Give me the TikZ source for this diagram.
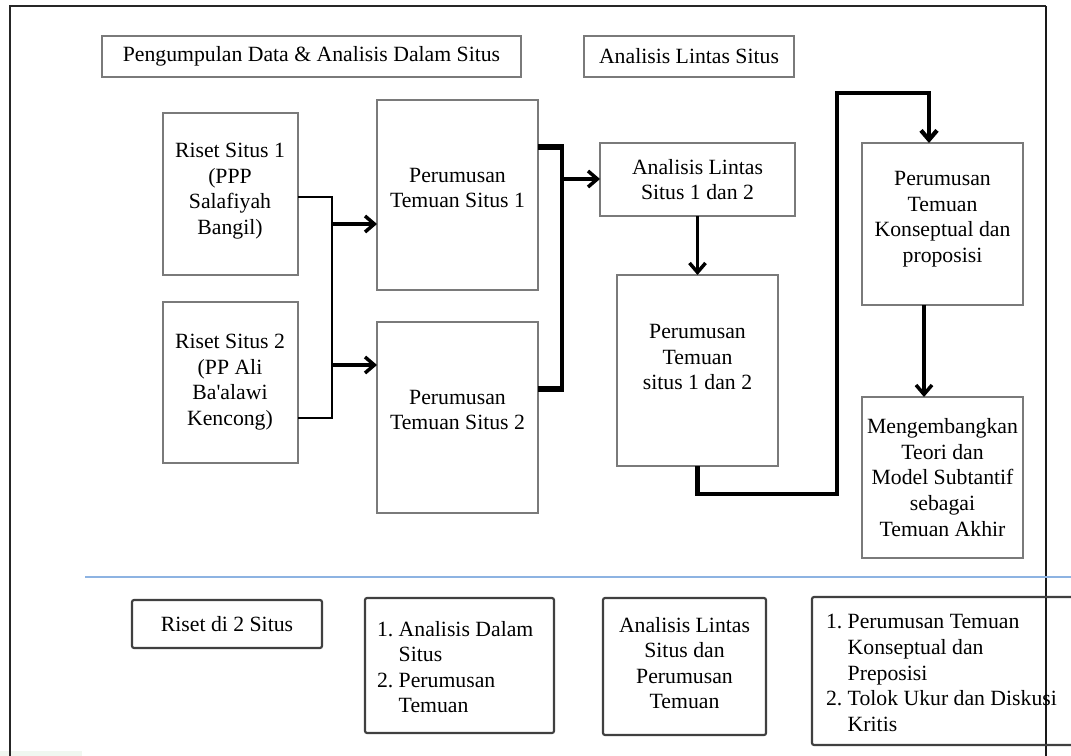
\documentclass[tikz,border=0pt]{standalone}
\usepackage{fontspec}
\newfontfamily\timesfam{Liberation Serif}
\usetikzlibrary{arrows.meta,calc}
\definecolor{boxgray}{HTML}{7A7A7A}
\definecolor{bordark}{HTML}{404040}
\definecolor{rulecol}{HTML}{8DB3E2}
\definecolor{patchcol}{HTML}{F0F7F0}

\begin{document}
\begin{tikzpicture}[x=0.75pt,y=-0.75pt,
  every node/.style={inner sep=0pt, outer sep=0pt},
  wh/.style 2 args={minimum width=#1*0.75pt, minimum height=#2*0.75pt},
  gbox/.style={draw=boxgray, line width=1.5pt, rectangle},
  dbox/.style={draw=bordark, line width=1.6pt, rectangle, rounded corners=1.5pt},
  txt/.style={align=center, text=black, font=\timesfam\fontsize{16.3}{19.2}\selectfont},
  ltxt/.style={align=left, anchor=west, text=black, font=\timesfam\fontsize{16.3}{19.2}\selectfont},
  thinline/.style={line width=2.2pt},
  thickline/.style={line width=3pt},
  arr/.style={line width=2.6pt, -{Straight Barb[length=7pt,width=12pt]}},
]
\useasboundingbox (0,0) rectangle (1071,756);
\fill[white] (0,0) rectangle (1071,756);
\fill[patchcol] (0,751) rectangle (82,756);

% outer frame (open at the bottom)
\draw[line width=1.6pt, black!85] (10,756) -- (10,6) -- (1046,6);
\draw[line width=1.1pt, black!90] (1046,6) -- (1046,756);

% headings
\node[gbox, wh={419}{41}] (h1) at (311.5,56.5) {};
\node[txt] (h1t) at (h1.center) {Pengumpulan Data \& Analisis Dalam Situs};
\node[gbox, wh={210}{41}] (h2) at (689,56.5) {};
\node[txt] (h2t) at (h2.center) {Analisis Lintas Situs};

% site research boxes
\node[gbox, wh={135}{162}] (r1) at (230.5,194) {};
\node[txt] (r1t) at (230,191) {Riset Situs 1\\(PPP\\Salafiyah\\Bangil)};
\node[gbox, wh={135}{161}] (r2) at (230.5,382.5) {};
\node[txt] (r2t) at (230,382) {Riset Situs 2\\(PP Ali\\Ba'alawi\\Kencong)};

% findings per site
\node[gbox, wh={161}{190}] (pts1) at (457.5,195) {};
\node[txt] (pts1t) at (457.5,188) {Perumusan\\Temuan Situs 1};
\node[gbox, wh={161}{191}] (pts2) at (457.5,417.5) {};
\node[txt] (pts2t) at (457.5,410) {Perumusan\\Temuan Situs 2};

% cross-site analysis
\node[gbox, wh={195}{73}] (als) at (697.5,179.5) {};
\node[txt] (alst) at (als.center) {Analisis Lintas\\Situs 1 dan 2};
\node[gbox, wh={161}{191}] (pt12) at (697.5,370.5) {};
\node[txt] (pt12t) at (697.5,357) {Perumusan\\Temuan\\situs 1 dan 2};

% conceptual findings and theory
\node[gbox, wh={161}{162}] (kon) at (942.5,224) {};
\node[txt] (kont) at (942.5,219) {Perumusan\\Temuan\\Konseptual dan\\proposisi};
\node[gbox, wh={161}{161}] (mod) at (942.5,477.5) {};
\node[txt] (modt) at (942.5,477.5) {Mengembangkan\\Teori dan\\Model Subtantif\\sebagai\\Temuan Akhir};

% connectors: site research -> findings
\coordinate (jL1) at (332,197);
\coordinate (jL2) at (332,418);
\draw[thinline] (r1.east |- jL1) -- (jL1) -- (jL2) -- (r2.east |- jL2);
\coordinate (aL1) at (333,224);
\coordinate (aL2) at (333,365);
\draw[arr] (aL1) -- (pts1.west |- aL1);
\draw[arr] (aL2) -- (pts2.west |- aL2);

% connectors: findings -> cross-site analysis
\coordinate (jR1) at (562,147);
\coordinate (jR2) at (562,389);
\draw[thickline] (jR1) -- (jR2);
\draw[line width=4.5pt] (pts1.east |- jR1) -- ([xshift=1.2pt]jR1);
\draw[line width=4.5pt] (pts2.east |- jR2) -- ([xshift=1.2pt]jR2);
\coordinate (aR) at (562,179);
\draw[arr] (aR) -- (als.west |- aR);
\draw[arr] (als.south) -- (pt12.north);

% cross-site findings -> conceptual findings
\coordinate (c1) at (837,494);
\coordinate (c2) at (837,93);
\coordinate (c3) at (929,93);
\draw[line width=3.2pt, -{Straight Barb[length=7pt,width=12pt]}]
  (pt12.south) -- (pt12.south |- c1) -- (c1) -- (c2) -- (c3) -- (kon.north -| c3);
\coordinate (k1) at (924,300);
\draw[arr] (kon.south -| k1) -- (mod.north -| k1);

% separator
\draw[rulecol, line width=1.8pt] (85,577) -- (1071,577);

% summary row
\node[dbox, wh={190}{48}] (b1) at (227,624) {};
\node[txt] (b1t) at (b1.center) {Riset di 2 Situs};
\node[dbox, wh={189}{135}] (b2) at (459.5,665.5) {};
\node[ltxt] (b2t) at (377,667) {\makebox[1em][l]{1.}Analisis Dalam\\\hspace*{1em}Situs\\\makebox[1em][l]{2.}Perumusan\\\hspace*{1em}Temuan};
\node[dbox, wh={163}{137}] (b3) at (684.5,666.5) {};
\node[txt] (b3t) at (684.5,663) {Analisis Lintas\\Situs dan\\Perumusan\\Temuan};
\node[dbox, wh={275}{148}] (b4) at (949.5,671) {};
\node[ltxt] (b4t) at (826,673) {\makebox[1em][l]{1.}Perumusan Temuan\\\hspace*{1em}Konseptual dan\\\hspace*{1em}Preposisi\\\makebox[1em][l]{2.}Tolok Ukur dan Diskusi\\\hspace*{1em}Kritis};
\end{tikzpicture}
\end{document}
